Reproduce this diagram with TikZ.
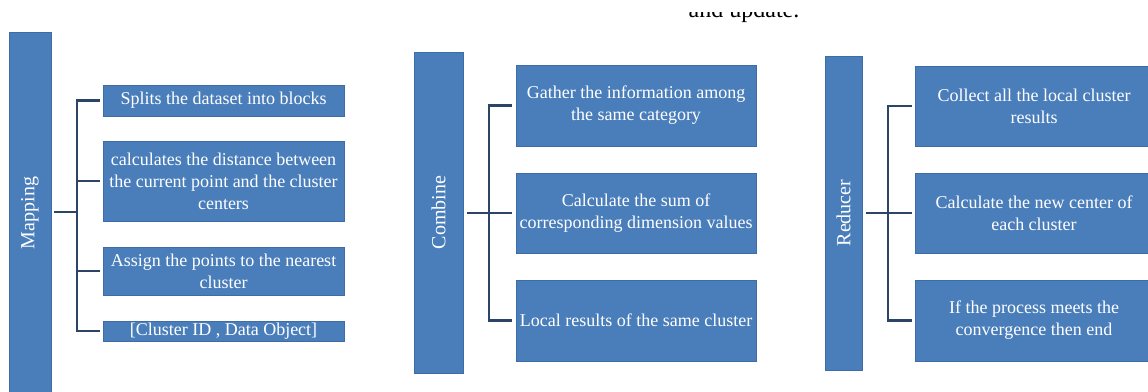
\documentclass[tikz,border=0pt]{standalone}
\usepackage{fontspec}
\setmainfont{Liberation Serif}
\definecolor{boxblue}{HTML}{4A7EBB}
\definecolor{boxedge}{HTML}{3D6CA6}
\definecolor{spinecol}{HTML}{2C4466}
\begin{document}
\begin{tikzpicture}[x=1pt,y=-1pt,
  box/.style={draw=boxedge, fill=boxblue, line width=0.8pt, text=white,
    font=\fontsize{18}{22}\selectfont, align=center, inner sep=0pt},
  bar/.style={draw=boxedge, fill=boxblue, line width=0.8pt, inner sep=0pt},
  barlabel/.style={text=white, rotate=90, font=\fontsize{20}{22}\selectfont, inner sep=0pt},
  spine/.style={draw=spinecol, line width=2.5pt},
  toptext/.style={text=black, font=\fontsize{24}{24}\selectfont, anchor=base, inner sep=0pt}]
\useasboundingbox (0,0) rectangle (1148,391);

% clipped heading remnant
\begin{scope}
  \clip (600,12) rectangle (900,30);
  \node[toptext] (top) at (744,17.5) {and update.};
\end{scope}

% ---------------- Mapping ----------------
\node[bar, minimum width=42, minimum height=362] (mb) at (30,213) {};
\node[barlabel] (mbl) at (mb.center) {Mapping};
\node[box, minimum width=241, minimum height=31] (m1) at (223.5,100.5) {Splits the dataset into blocks};
\node[box, minimum width=241, minimum height=80] (m2) at (223.5,181) {calculates the distance between\\the current point and the cluster\\centers};
\node[box, minimum width=241, minimum height=48] (m3) at (223.5,271) {Assign the points to the nearest\\cluster};
\node[box, minimum width=241, minimum height=20] (m4) at (223.5,331) {[Cluster ID , Data Object]};
\coordinate (mj) at (77,212);
\draw[spine] ([xshift=3]mb.east |- mj) -- (mj);
\draw[spine] ([xshift=-3]m1.west) -| (mj |- m4.west) -- ([xshift=-3]m4.west);
\draw[spine] (mj |- m2.west) -- ([xshift=-3]m2.west);
\draw[spine] (mj |- m3.west) -- ([xshift=-3]m3.west);

% ---------------- Combine ----------------
\node[bar, minimum width=49, minimum height=321] (cb) at (438.5,212.5) {};
\node[barlabel] (cbl) at (cb.center) {Combine};
\node[box, minimum width=240, minimum height=81] (c1) at (636,105.5) {Gather the information among\\the same category};
\node[box, minimum width=240, minimum height=80] (c2) at (636,213) {Calculate the sum of\\corresponding dimension values};
\node[box, minimum width=240, minimum height=81] (c3) at (636,320.5) {Local results of the same cluster};
\coordinate (cj) at (489,212);
\draw[spine] ([xshift=4]cb.east |- c2.west) -- ([xshift=-4]c2.west);
\draw[spine] ([xshift=-4]c1.west) -| (cj |- c3.west) -- ([xshift=-4]c3.west);

% ---------------- Reducer ----------------
\node[bar, minimum width=37, minimum height=314] (rb) at (843.5,213) {};
\node[barlabel] (rbl) at (rb.center) {Reducer};
\node[box, minimum width=238, minimum height=80] (r1) at (1034,106) {Collect all the local cluster\\results};
\node[box, minimum width=238, minimum height=80] (r2) at (1034,213) {Calculate the new center of\\each cluster};
\node[box, minimum width=238, minimum height=81] (r3) at (1034,320.5) {If the process meets the\\convergence then end};
\coordinate (rj) at (888,212);
\draw[spine] ([xshift=4]rb.east |- r2.west) -- ([xshift=-3]r2.west);
\draw[spine] ([xshift=-3]r1.west) -| (rj |- r3.west) -- ([xshift=-3]r3.west);
\end{tikzpicture}
\end{document}
